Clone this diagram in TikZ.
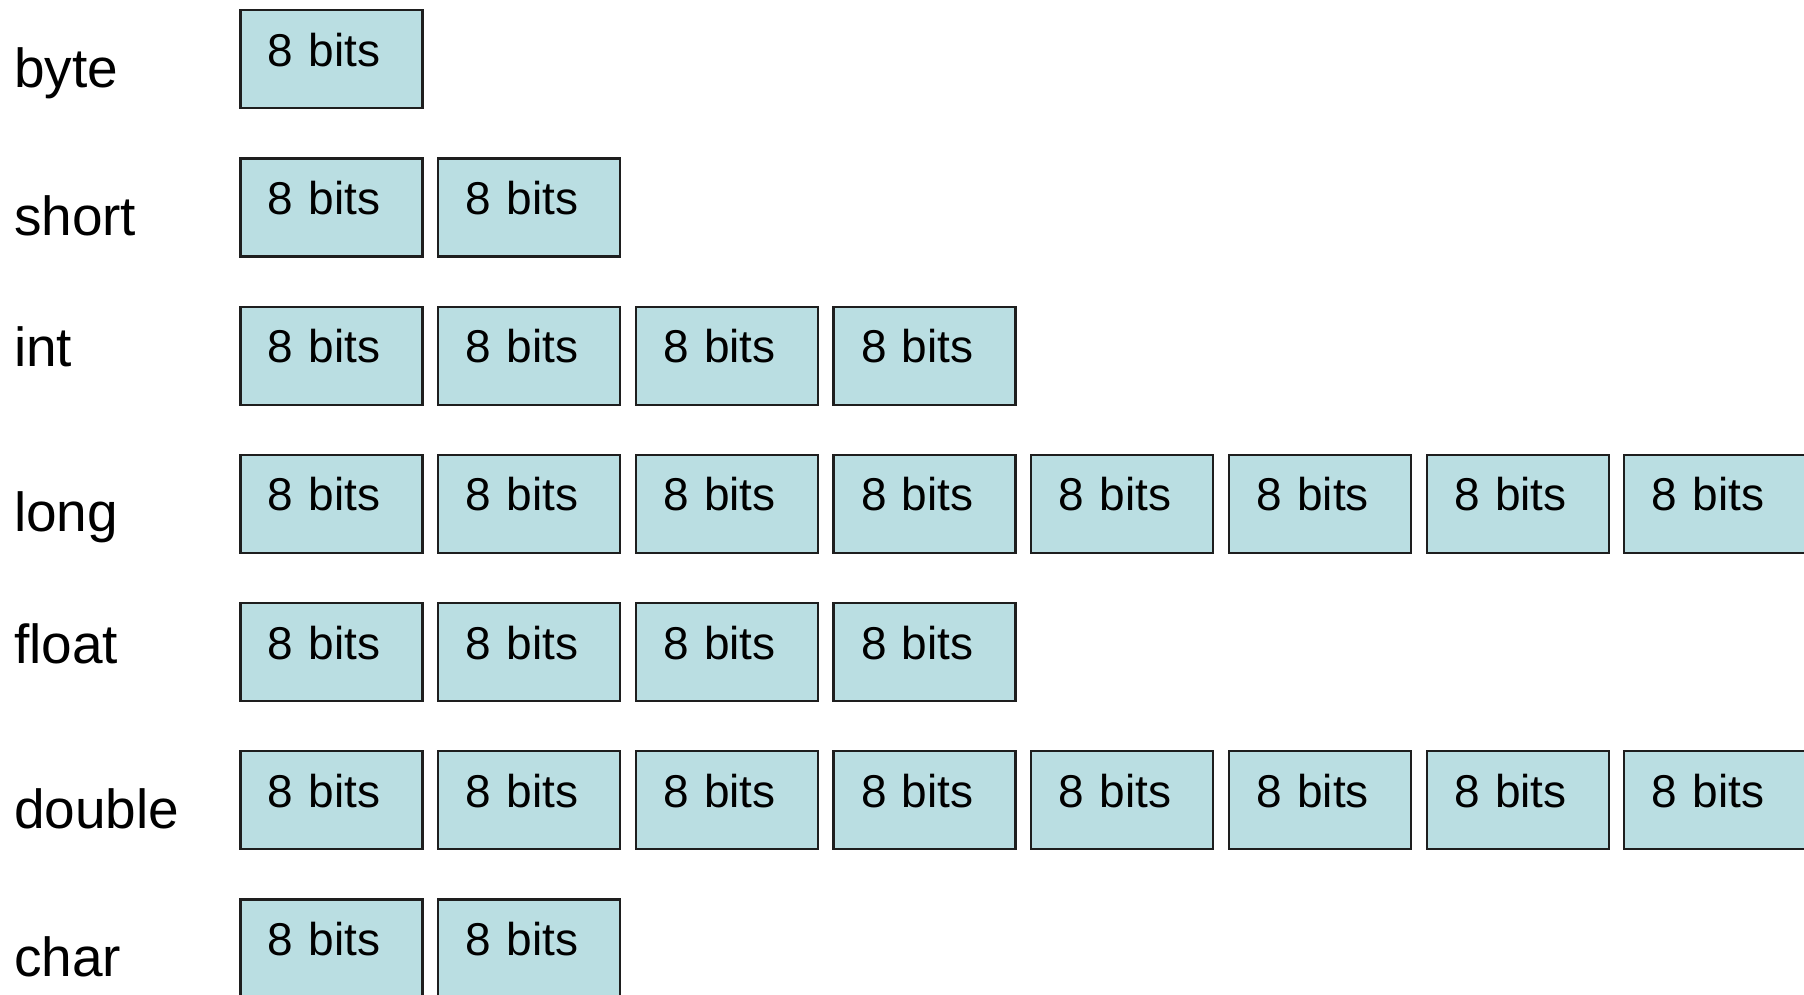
\documentclass[tikz,border=0pt]{standalone}
\usepackage{fontspec}
\setmainfont{Liberation Sans}
\definecolor{boxfill}{RGB}{186,222,226}
\definecolor{boxline}{RGB}{30,30,30}
\tikzset{
  bitbox/.style={draw=boxline, line width=2.2pt, fill=boxfill, rectangle, anchor=north west,
    inner xsep=0pt, inner ysep=0pt, minimum width=182pt, minimum height=98pt,
    text width=182pt, align=left, text height=56pt, text depth=42pt,
    font=\fontsize{46}{48}\selectfont},
  typelabel/.style={anchor=base west, inner sep=0pt, font=\fontsize{55}{58}\selectfont}
}
\begin{document}
\begin{tikzpicture}[x=1pt,y=1pt]
\clip (0,0) rectangle (1804,-995);
\fill[white] (0,0) rectangle (1804,-995);
\foreach \r/\name/\n/\off in {0/byte/1/78, 1/short/2/78, 2/int/4/61, 3/long/8/78, 4/float/4/61, 5/double/8/78, 6/char/2/78}{
  \pgfmathsetmacro{\top}{-9.2-\r*148.2}
  \node[typelabel] (lab\r) at (13.8,\top-\off) {\name};
  \foreach \c in {1,...,\n}{
    \pgfmathsetmacro{\left}{239.3+(\c-1)*197.7}
    \node[bitbox] (r\r c\c) at (\left,\top) {\hspace*{27.5pt}8 bits};
  }
}
\end{tikzpicture}
\end{document}
